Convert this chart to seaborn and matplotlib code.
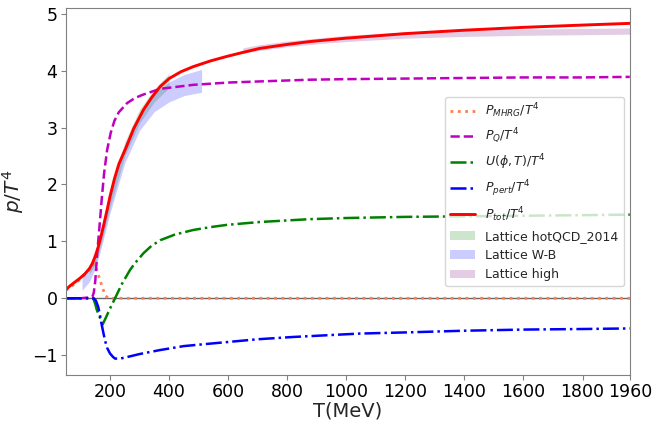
import numpy as np
import pandas as pd
import seaborn as sns
import matplotlib
matplotlib.use("Agg")
import matplotlib.pyplot as plt

# --- curves (T in MeV) ---
T_mhrg = [50, 80, 100, 130, 145, 150, 155, 166, 177, 185, 195, 1960]
p_mhrg = [0.14, 0.25, 0.34, 0.5, 0.6, 0.6, 0.5, 0.32, 0.15, 0.04, 0.0, 0.0]

T_q = [50, 100, 140, 145, 150, 157, 165, 172, 180, 190, 202, 215, 230, 258, 285, 313,
       370, 482, 600, 707, 876, 1000, 1200, 1400, 1600, 1800, 1960]
p_q = [0.0, 0.0, 0.02, 0.1, 0.3, 0.82, 1.3, 1.75, 2.2, 2.6, 2.9, 3.12, 3.27, 3.43, 3.52, 3.58,
       3.68, 3.75, 3.79, 3.81, 3.84, 3.85, 3.86, 3.87, 3.88, 3.88, 3.89]

T_u = [50, 143, 150, 155, 165, 175, 185, 200, 217, 240, 268, 285, 313, 340, 370, 420,
       482, 540, 596, 707, 876, 1000, 1200, 1400, 1600, 1800, 1960]
u = [0.0, 0.0, -0.1, -0.2, -0.33, -0.46, -0.35, -0.18, 0.0, 0.25, 0.5, 0.62, 0.79, 0.92, 1.02, 1.12,
     1.2, 1.25, 1.29, 1.34, 1.39, 1.41, 1.43, 1.44, 1.45, 1.46, 1.47]

T_pert = [50, 145, 152, 160, 166, 172, 178, 183, 190, 200, 210, 217, 234, 260, 300, 369,
          450, 595, 700, 820, 1046, 1200, 1400, 1600, 1800, 1960]
p_pert = [0.0, 0.0, -0.04, -0.15, -0.3, -0.47, -0.62, -0.74, -0.87, -0.97, -1.03, -1.06, -1.06, -1.03, -0.98, -0.91,
          -0.84, -0.77, -0.72, -0.68, -0.62, -0.6, -0.57, -0.55, -0.54, -0.53]

T_tot = [50, 65, 80, 100, 115, 130, 140, 150, 160, 170, 180, 190, 200, 215, 230, 256, 280, 313,
         340, 370, 400, 440, 482, 540, 596, 650, 707, 800, 876, 1000, 1200, 1400, 1600, 1800, 1960]
p_tot = [0.15, 0.22, 0.28, 0.36, 0.43, 0.52, 0.61, 0.74, 0.9, 1.1, 1.32, 1.55, 1.79, 2.1, 2.36, 2.67, 2.98, 3.31,
         3.52, 3.72, 3.86, 3.98, 4.07, 4.17, 4.25, 4.32, 4.39, 4.46, 4.51, 4.57, 4.65, 4.71, 4.76, 4.8, 4.83]

# lattice bands
T_hot = [130, 150, 170, 200, 250, 300, 350, 400]
hot_lo = [0.42, 0.6, 0.95, 1.6, 2.5, 3.08, 3.45, 3.7]
hot_hi = [0.55, 0.75, 1.15, 1.85, 2.75, 3.32, 3.68, 3.95]

T_wb = [105, 130, 150, 170, 200, 250, 300, 350, 400, 450, 510]
wb_lo = [0.14, 0.29, 0.52, 0.88, 1.5, 2.38, 2.95, 3.28, 3.45, 3.56, 3.62]
wb_hi = [0.4, 0.56, 0.8, 1.15, 1.8, 2.7, 3.25, 3.6, 3.8, 3.93, 4.02]

T_high = [650, 700, 800, 900, 1000, 1200, 1400, 1600, 1800, 1960]
high_lo = [4.3, 4.35, 4.42, 4.47, 4.51, 4.57, 4.6, 4.62, 4.63, 4.64]
high_hi = [4.4, 4.45, 4.52, 4.57, 4.62, 4.68, 4.71, 4.73, 4.74, 4.75]

xticks = [200, 400, 600, 800, 1000, 1200, 1400, 1600, 1800, 1960]

sns.set_style("ticks", {"axes.edgecolor": "0.5"})
plt.rcParams['font.family'] = ['DejaVu Sans']

fig = plt.figure(figsize=(6.54, 4.21), dpi=100)
ax = fig.add_axes([0.1005, 0.109, 0.8625, 0.872])

ax.axhline(0, color='k', lw=1, alpha=0.6)

sns.lineplot(x=T_mhrg, y=p_mhrg, color='coral', linestyle=':', lw=2, label=r'$P_{MHRG}/T^4$', ax=ax)
sns.lineplot(x=T_q, y=p_q, color='m', linestyle='--', lw=1.8, label=r'$P_Q/T^4$', ax=ax)
sns.lineplot(x=T_u, y=u, color='g', linestyle='-.', lw=1.8, label=r'$U(\phi,T)/T^4$', ax=ax)
sns.lineplot(x=T_pert, y=p_pert, color='b', linestyle='-.', lw=1.8, label=r'$P_{pert}/T^4$', ax=ax)
sns.lineplot(x=T_tot, y=p_tot, color='r', linestyle='-', lw=2.1, label=r'$P_{tot}/T^4$', ax=ax)

ax.fill_between(T_hot, hot_lo, hot_hi, color='g', alpha=0.2, lw=0, label='Lattice hotQCD_2014')
ax.fill_between(T_wb, wb_lo, wb_hi, color='b', alpha=0.2, lw=0, label='Lattice W-B')
ax.fill_between(T_high, high_lo, high_hi, color='purple', alpha=0.2, lw=0, label='Lattice high')

ax.set_xlim(50, 1960)
ax.set_ylim(-1.35, 5.1)
ax.set_xticks(xticks)
ax.set_yticks([-1, 0, 1, 2, 3, 4, 5])
ax.tick_params(labelsize=12.5, color='0.5', labelcolor='k', length=3.5, pad=2.5)
ax.set_xlabel('T(MeV)', fontsize=14, labelpad=0)
ax.set_ylabel(r'$p/T^4$', fontsize=14.5, labelpad=4)

ax.legend(loc='center right', fontsize=9)

fig.savefig('out.png', dpi=100)
